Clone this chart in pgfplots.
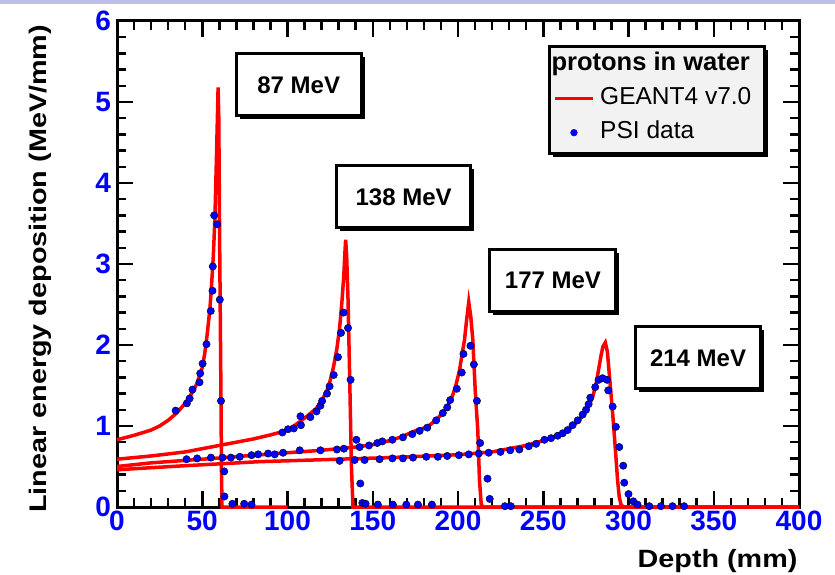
\documentclass[border=0pt]{standalone}
\usepackage{fontspec}
\setmainfont{Liberation Sans}
\usepackage{pgfplots}
\pgfplotsset{compat=1.18}
\usetikzlibrary{shadows}
\definecolor{rootred}{rgb}{1,0,0}
\definecolor{rootblue}{rgb}{0,0,1}
\definecolor{legendgray}{gray}{0.95}
\definecolor{slidebar}{RGB}{190,190,235}

\tikzset{
  boxshadow/.style={drop shadow={shadow xshift=3.5pt,shadow yshift=-3.5pt,fill=black,opacity=1}},
  mevbox/.style={draw=black,line width=3pt,fill=white,boxshadow,minimum height=62pt,
    font=\bfseries\fontsize{24}{24}\selectfont},
}

% GEANT4 v7.0 curves
\pgfplotstableread{
x y
0 0.83
10 0.885
20 0.95
25 1.00
30 1.07
35 1.16
40 1.28
44 1.41
47 1.53
50 1.72
51.5 1.90
53 2.15
54.5 2.45
55.4 2.72
56.5 3.10
57.4 3.55
58.4 4.37
59.3 5.18
59.7 4.80
60.2 3.30
60.6 2.30
61.0 1.30
61.3 0.40
61.6 0
100 0
}\geantA
\pgfplotstableread{
x y
0 0.59
20 0.63
40 0.68
60 0.76
80 0.84
90 0.89
97 0.93
103 0.99
107 1.05
112 1.13
117 1.22
120 1.31
123 1.43
125 1.56
127 1.73
129 1.96
130.5 2.20
131.8 2.50
133 2.85
133.7 3.15
134.1 3.30
134.7 3.10
135.5 2.56
136.5 1.57
137.5 0.50
138.4 0
400 0
}\geantB
\pgfplotstableread{
x y
0 0.50
20 0.545
40 0.575
60 0.605
84 0.645
100 0.67
120 0.70
140 0.74
150 0.77
160 0.82
166 0.86
175 0.94
182 0.99
187 1.07
191 1.16
194 1.25
196.5 1.36
198.5 1.48
200.9 1.69
202.5 1.90
203.8 2.06
205 2.30
206.3 2.53
207.5 2.35
208.7 2.06
210.1 1.44
211.6 0.95
212.6 0.33
213.6 0.04
214.5 0
400 0
}\geantC
\pgfplotstableread{
x y
0 0.46
40 0.51
84 0.56
130 0.59
160 0.61
200 0.645
220 0.68
240 0.76
250 0.82
260 0.90
265 0.96
269 1.03
272 1.10
275 1.18
277 1.26
279 1.36
281 1.52
282.5 1.70
283.8 1.86
285 1.98
286.4 2.03
287.6 1.92
288.7 1.65
290.7 1.16
292.2 0.74
293.6 0.33
294.6 0.12
295.6 0.03
297 0
400 0
}\geantD

% PSI data, all four energies
\pgfplotstableread{
x y
34.4 1.19
41.0 1.28
42.6 1.34
44.3 1.45
48.4 1.54
48.8 1.65
50.2 1.77
52.5 2.01
55.0 2.42
56.0 2.67
56.2 2.97
57.0 3.60
58.8 3.49
60.3 2.56
61.0 1.31
62.9 0.44
63.0 0.13
67.7 0.04
74.6 0.04
78.9 0.03
97.0 0.92
100.3 0.96
103.7 0.97
107.6 1.12
107.9 1.01
113.4 1.11
117.0 1.18
119.3 1.25
120.3 1.31
123.2 1.40
124.7 1.49
127.1 1.63
129.6 1.85
131.4 2.15
132.9 2.40
135.5 2.21
137.0 1.57
140.4 0.83
142.7 0.29
143.9 0.05
145.8 0.04
153.0 0.03
161.8 0.03
169.7 0.03
176.5 0.03
184.7 0.03
40.8 0.59
47.0 0.60
55.1 0.61
61.9 0.61
66.8 0.61
72.0 0.62
78.9 0.64
82.8 0.65
88.6 0.66
92.5 0.65
97.4 0.67
107.2 0.70
119.3 0.70
129.0 0.71
133.1 0.72
142.3 0.74
147.8 0.76
152.7 0.79
155.6 0.81
161.5 0.83
167.7 0.86
173.2 0.90
177.5 0.94
182.0 0.98
187.2 1.07
191.1 1.16
193.7 1.23
195.4 1.32
199.3 1.46
202.2 1.66
203.2 1.89
207.3 1.99
209.3 1.76
211.1 1.31
213.0 0.79
217.3 0.35
218.6 0.10
227.5 0.01
231.0 0.01
130.6 0.57
139.4 0.58
145.2 0.58
154.0 0.59
161.5 0.60
167.7 0.60
173.6 0.61
181.4 0.62
188.2 0.62
193.7 0.63
200.5 0.64
206.3 0.65
212.2 0.66
218.0 0.67
224.9 0.68
230.6 0.70
236.0 0.71
241.5 0.75
245.8 0.78
250.7 0.83
254.6 0.85
258.5 0.88
261.4 0.91
264.3 0.95
267.2 1.01
270.2 1.07
273.1 1.14
275.1 1.20
276.6 1.27
277.6 1.35
280.5 1.48
282.5 1.57
284.8 1.59
287.4 1.57
288.1 1.44
290.7 1.24
292.6 0.99
294.6 0.74
296.9 0.51
297.5 0.30
300.0 0.16
302.8 0.07
305.3 0.03
312.2 0.01
319.0 0.01
325.8 0.01
332.6 0.01
}\psidata

\begin{document}
\begin{tikzpicture}
\fill[slidebar] (0pt,570pt) rectangle (835pt,574pt);
\begin{axis}[
    at={(117pt,67pt)}, anchor=south west,
    scale only axis, width=682pt, height=486pt,
    xmin=0, xmax=400, ymin=0, ymax=6,
    xtick={0,50,...,400}, ytick={0,1,...,6},
    minor x tick num=4, minor y tick num=4,
    major tick length=16pt, minor tick length=9pt,
    tick style={line width=2.5pt,black},
    axis line style={line width=3pt},
    ticklabel style={font=\bfseries\fontsize{28}{28}\selectfont, text=rootblue},
    yticklabel style={xshift=-2.5pt},
    /pgf/number format/assume math mode=true,
    xlabel={\scalebox{1.15}[1]{\bfseries\fontsize{25}{25}\selectfont Depth (mm)}},
    ylabel={\scalebox{1.2}[1]{\bfseries\fontsize{24}{24}\selectfont Linear energy deposition (MeV/mm)}},
    xlabel style={at={(axis description cs:0.998,-0.111)}, anchor=east, inner sep=0pt},
    ylabel style={at={(axis description cs:-0.112,0.490)}, anchor=center, inner sep=0pt},
    clip=false,
    legend cell align=left,
    legend style={
        at={(axis description cs:0.6323,0.951)}, anchor=north west,
        draw=none, fill=none,
        inner xsep=4.8pt, inner ysep=5.5pt,
        row sep=6.7pt, column sep=3.5pt,
        nodes={inner sep=2pt, text height=18pt, text depth=5.5pt},
        font=\fontsize{24.5}{24.5}\selectfont,
    },
]
% frame of the legend, drawn before the legend entries
\node[draw=black, line width=3pt, fill=legendgray, boxshadow, anchor=north west,
      minimum width=215pt, minimum height=107pt, inner sep=0pt]
      at (axis description cs:0.6323,0.951) {};

\addlegendimage{empty legend}
\addlegendentry{\makebox[0pt][l]{\hspace*{-48.7pt}\bfseries\fontsize{25.5}{25.5}\selectfont protons in water}}

\addplot[rootred, line width=3.5pt, no marks,
    legend image code/.code={\draw[rootred,line width=3.5pt] (0pt,0pt) -- (38pt,0pt);}]
    table[x=x,y=y] {\geantA};
\addlegendentry{GEANT4 v7.0}
\addplot[rootred, line width=3.5pt, no marks, forget plot] table[x=x,y=y] {\geantB};
\addplot[rootred, line width=3.5pt, no marks, forget plot] table[x=x,y=y] {\geantC};
\addplot[rootred, line width=3.5pt, no marks, forget plot] table[x=x,y=y] {\geantD};

\addplot[only marks, mark=*, mark size=3.7pt, mark options={draw=none, fill=rootblue},
    legend image code/.code={\fill[rootblue] (19pt,0pt) circle (3.4pt);}]
    table[x=x,y=y] {\psidata};
\addlegendentry{PSI data}

\node[mevbox, minimum width=125pt] at (axis cs:106.6,5.21) {87 MeV};
\node[mevbox, minimum width=134pt] at (axis cs:168.1,3.83) {138 MeV};
\node[mevbox, minimum width=126pt] at (axis cs:255.7,2.80) {177 MeV};
\node[mevbox, minimum width=125pt] at (axis cs:340.8,1.84) {214 MeV};
\end{axis}
\pgfresetboundingbox
\path (0pt,0pt) rectangle (835pt,574pt);
\end{tikzpicture}
\end{document}
